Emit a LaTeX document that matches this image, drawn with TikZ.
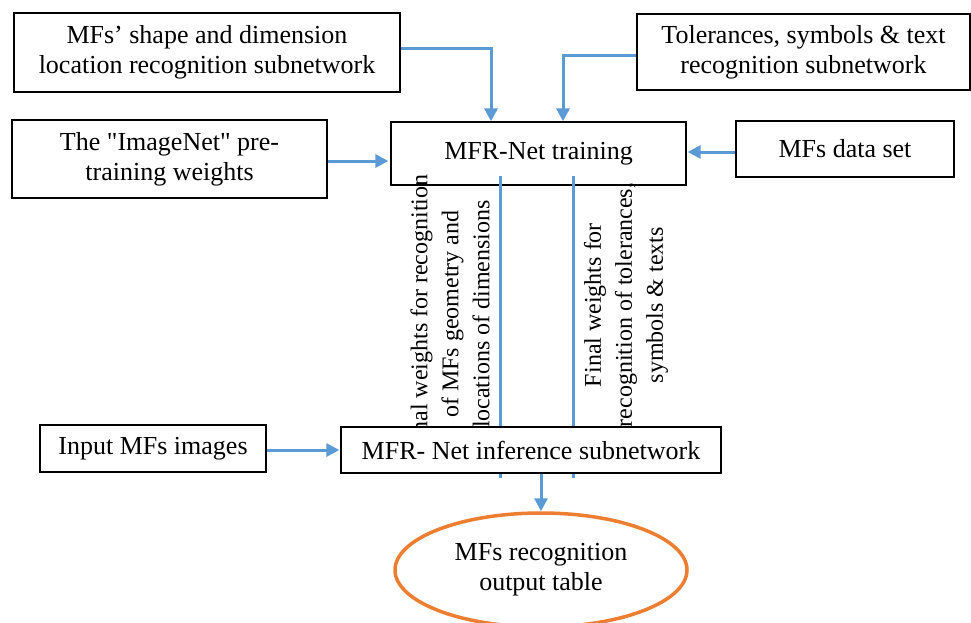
\documentclass[tikz,border=0pt]{standalone}
\usepackage{fontspec}
\setmainfont{Liberation Serif}
\usetikzlibrary{arrows.meta,shapes.geometric}
\definecolor{lblue}{RGB}{91,155,213}
\definecolor{lorange}{RGB}{237,125,49}
\begin{document}
\begin{tikzpicture}[x=1pt,y=-1pt,
  every node/.style={font=\fontsize{26}{30}\selectfont},
  box/.style={draw=black,line width=1.3pt,fill=white,inner sep=0pt,align=center},
  conn/.style={draw=lblue,line width=3pt,-{Triangle[length=13pt,width=13pt]}},
  plainline/.style={draw=lblue,line width=3pt},
  lbl/.style={align=center,inner sep=0pt,font=\fontsize{24}{31}\selectfont}]
\useasboundingbox (0,0) rectangle (971,622);
% top boxes
\node[box,minimum width=386pt,minimum height=79pt] (A) at (207,52.5) {MFs’ shape and dimension\\location recognition subnetwork};
\node[box,minimum width=315pt,minimum height=78pt] (B) at (169.5,159) {The \textquotedbl ImageNet\textquotedbl{} pre-\\training weights};
\node[box,minimum width=295pt,minimum height=63pt] (C) at (538.5,153.5) {MFR-Net training};
\node[box,minimum width=333pt,minimum height=76pt] (D) at (803.5,52) {Tolerances, symbols \& text\\recognition subnetwork};
\node[box,minimum width=218pt,minimum height=56pt] (E) at (845,149) {MFs data set};
% vertical weight lines
\coordinate (l1) at (500,478);
\coordinate (l2) at (573,478);
\draw[plainline] ([yshift=10pt]C.south -| l1) -- (l1);
\draw[plainline] ([yshift=10pt]C.south -| l2) -- (l2);
% rotated labels
\node[lbl,rotate=90] (T1) at (450,314) {Final weights for recognition\\of MFs geometry and\\locations of dimensions};
\node[lbl,rotate=90] (T2) at (626,305) {Final weights for\\recognition of tolerances,\\symbols \& texts};
% lower boxes
\node[box,minimum width=226pt,minimum height=47pt] (F) at (153,448.5) {Input MFs images};
\node[box,minimum width=380pt,minimum height=46pt] (G) at (531,450) {MFR- Net inference subnetwork};
\node[ellipse,draw=lorange,line width=3.5pt,fill=white,minimum width=292pt,minimum height=114pt,inner sep=0pt,align=center] (O) at (541,570) {MFs recognition\\output table};
% connectors
\draw[conn] ([yshift=4.5pt]A.east) -| ([xshift=-47.5pt]C.north);
\draw[conn] ([yshift=-3pt]D.west) -| ([xshift=24.5pt]C.north);
\draw[conn,shorten >=2pt] ([yshift=-2pt]B.east) -- ([yshift=-2pt]B.east -| C.west);
\draw[conn,shorten >=1pt] ([yshift=-3pt]E.west) -- ([yshift=-3pt]E.west -| C.east);
\draw[conn,shorten >=1pt] ([yshift=-1.5pt]F.east) -- ([yshift=-1.5pt]F.east -| G.west);
\draw[conn] (O.north |- G.south) -- (O.north);
\end{tikzpicture}
\end{document}
